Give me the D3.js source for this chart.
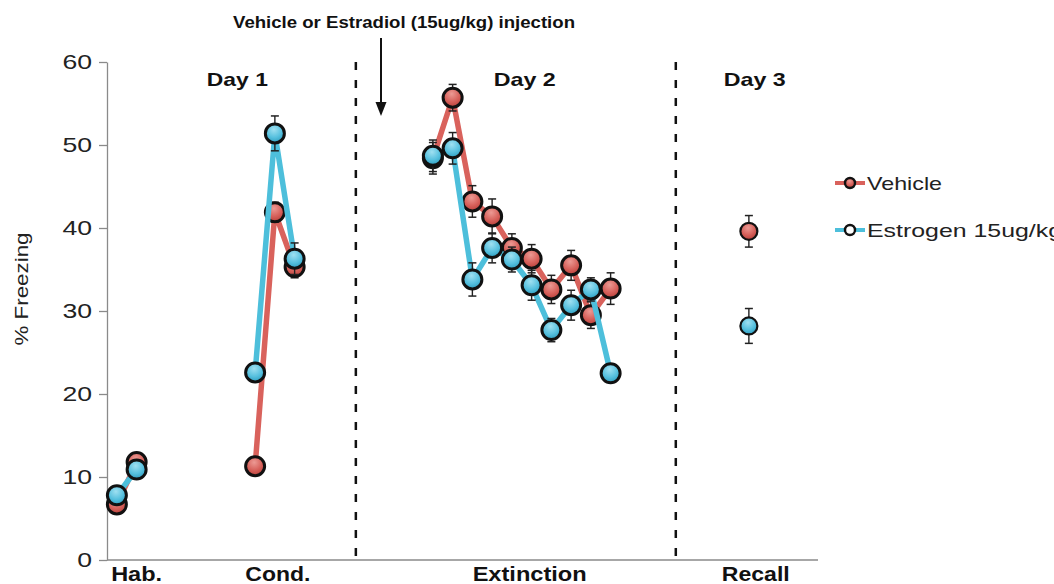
<!DOCTYPE html>
<html>
<head>
<meta charset="utf-8">
<script src="https://cdn.jsdelivr.net/npm/d3@7"></script>
<style>
  html, body { margin: 0; padding: 0; background: #fff; }
  svg { display: block; }
</style>
</head>
<body>
<svg id="chart" width="1054" height="584"></svg>
<script>
// ---------------- DATA ----------------
const phases = ["Hab.", "Cond.", "Extinction", "Recall"];
const seriesNames = ["Vehicle", "Estrogen 15ug/kg"];
const dayLabels = ["Day 1", "Day 2", "Day 3"];
const annotationText = "Vehicle or Estradiol (15ug/kg) injection";
const yTicks = [0, 10, 20, 30, 40, 50, 60];
const yTitle = "% Freezing";

// trial slot of each point (x position in trial units)
const habTrials = [0.5, 1.5];
const condTrials = [7.5, 8.5, 9.5];
const extTrials = [16.5, 17.5, 18.5, 19.5, 20.5, 21.5, 22.5, 23.5, 24.5, 25.5];
const recallTrials = [32.5];

// mean % freezing
const habVehicle = [6.7, 11.8];
const habEstrogen = [7.8, 10.9];
const condVehicle = [11.3, 41.9, 35.3];
const condEstrogen = [22.6, 51.4, 36.3];
const extVehicle = [48.4, 55.7, 43.2, 41.4, 37.6, 36.3, 32.6, 35.5, 29.5, 32.7];
const extEstrogen = [48.7, 49.6, 33.8, 37.6, 36.2, 33.1, 27.7, 30.7, 32.6, 22.5];
const recallVehicle = [39.6];
const recallEstrogen = [28.2];

// standard error
const habVehicleErr = [0.5, 0.6];
const habEstrogenErr = [0.5, 0.5];
const condVehicleErr = [0.5, 1.2, 1.3];
const condEstrogenErr = [0.5, 2.1, 1.9];
const extVehicleErr = [1.9, 1.6, 1.9, 2.1, 1.7, 1.7, 1.7, 1.8, 1.6, 1.9];
const extEstrogenErr = [1.9, 1.9, 2.0, 1.8, 1.5, 1.8, 1.4, 1.8, 1.4, 1.0];
const recallVehicleErr = [1.9];
const recallEstrogenErr = [2.1];

// ---------------- LAYOUT ----------------
const W = 1054, H = 584;
const svg = d3.select("#chart");
const x = d3.scaleLinear().domain([0, 36]).range([107, 818]);
const y = d3.scaleLinear().domain([0, 60]).range([560, 62]);

const phaseLabelPos = [1.5, 8.65, 21.4, 32.85];
const phaseLabelWidth = [51, 65, 114, 68];
const dividerPos = [12.6, 28.8];
const dayPos = [6.6, 21.15, 32.8];
const dayWidth = [61, 62, 62];

const colors = { Vehicle: "#d9625c", Estrogen: "#4dbfdb" };
const FONT = "'Liberation Sans', Arial, Helvetica, sans-serif";

// gradients
const defs = svg.append("defs");
function grad(id, light, base, dark) {
  const g = defs.append("radialGradient").attr("id", id)
    .attr("cx", "45%").attr("cy", "30%").attr("r", "70%");
  g.append("stop").attr("offset", "0%").attr("stop-color", light);
  g.append("stop").attr("offset", "60%").attr("stop-color", base);
  g.append("stop").attr("offset", "100%").attr("stop-color", dark);
}
grad("gV", "#ec9a94", "#d6605a", "#b9413b");
grad("gE", "#9fe0f1", "#56c0de", "#2f9ec0");

// ---------------- AXES ----------------
const yAxis = d3.axisLeft(y).tickValues(yTicks).tickSize(8).tickSizeOuter(0).tickPadding(7);
const gy = svg.append("g").attr("transform", `translate(${x(0)},0)`).call(yAxis);
gy.select(".domain").attr("stroke", "#8a8a8a").attr("stroke-width", 1.3);
gy.selectAll(".tick line").attr("stroke", "#8a8a8a").attr("stroke-width", 1.3);
gy.selectAll(".tick text")
  .attr("font-family", FONT).attr("font-size", 21).attr("fill", "#222")
  .attr("textLength", d => String(d).length * 14.8)
  .attr("lengthAdjust", "spacingAndGlyphs");

svg.append("line")
  .attr("x1", x(0)).attr("x2", x(36)).attr("y1", y(0)).attr("y2", y(0))
  .attr("stroke", "#8a8a8a").attr("stroke-width", 1.3);

svg.append("text")
  .attr("transform", `translate(28,289) rotate(-90)`)
  .attr("text-anchor", "middle")
  .attr("font-family", FONT).attr("font-size", 19).attr("fill", "#222")
  .attr("textLength", 113).attr("lengthAdjust", "spacingAndGlyphs")
  .text(yTitle);

svg.append("g").selectAll("text").data(phases).join("text")
  .attr("x", (d, i) => x(phaseLabelPos[i]))
  .attr("y", 581)
  .attr("text-anchor", "middle")
  .attr("font-family", FONT).attr("font-weight", "bold").attr("font-size", 20).attr("fill", "#111")
  .attr("textLength", (d, i) => phaseLabelWidth[i]).attr("lengthAdjust", "spacingAndGlyphs")
  .text(d => d);

// dividers
svg.append("g").selectAll("line").data(dividerPos).join("line")
  .attr("x1", d => x(d)).attr("x2", d => x(d))
  .attr("y1", y(60)).attr("y2", y(0))
  .attr("stroke", "#111").attr("stroke-width", 2.5).attr("stroke-dasharray", "8,10");

// day labels
svg.append("g").selectAll("text").data(dayLabels).join("text")
  .attr("x", (d, i) => x(dayPos[i]))
  .attr("y", 86)
  .attr("text-anchor", "middle")
  .attr("font-family", FONT).attr("font-weight", "bold").attr("font-size", 19).attr("fill", "#111")
  .attr("textLength", (d, i) => dayWidth[i]).attr("lengthAdjust", "spacingAndGlyphs")
  .text(d => d);

// annotation + arrow
svg.append("text")
  .attr("x", 404).attr("y", 28)
  .attr("text-anchor", "middle")
  .attr("font-family", "'Liberation Sans Narrow', " + FONT).attr("font-weight", "bold")
  .attr("font-size", 17).attr("fill", "#111")
  .attr("textLength", 342).attr("lengthAdjust", "spacingAndGlyphs")
  .text(annotationText);
const ax = 381;
svg.append("line").attr("x1", ax).attr("x2", ax).attr("y1", 38).attr("y2", 106)
  .attr("stroke", "#111").attr("stroke-width", 2);
svg.append("path")
  .attr("d", `M${ax - 5.5},${102} L${ax + 5.5},${102} L${ax},${116} Z`)
  .attr("fill", "#111");

// ---------------- SERIES ----------------
function segs(trials, vals, errs) {
  return trials.map((t, i) => ({ t, v: vals[i], e: errs[i] }));
}
const vehicleSegs = [
  segs(habTrials, habVehicle, habVehicleErr),
  segs(condTrials, condVehicle, condVehicleErr),
  segs(extTrials, extVehicle, extVehicleErr),
  segs(recallTrials, recallVehicle, recallVehicleErr)
];
const estrogenSegs = [
  segs(habTrials, habEstrogen, habEstrogenErr),
  segs(condTrials, condEstrogen, condEstrogenErr),
  segs(extTrials, extEstrogen, extEstrogenErr),
  segs(recallTrials, recallEstrogen, recallEstrogenErr)
];

const line = d3.line().x(d => x(d.t)).y(d => y(d.v));

function drawSeries(segments, color, gradId) {
  const g = svg.append("g");
  g.selectAll("path.ln").data(segments.filter(s => s.length > 1)).join("path")
    .attr("class", "ln")
    .attr("d", line).attr("fill", "none")
    .attr("stroke", color).attr("stroke-width", 5.5).attr("stroke-linejoin", "round");
  const pts = segments.flat();
  const eg = g.append("g");
  eg.selectAll("line.eb").data(pts).join("line").attr("class", "eb")
    .attr("x1", d => x(d.t)).attr("x2", d => x(d.t))
    .attr("y1", d => y(d.v - d.e)).attr("y2", d => y(d.v + d.e))
    .attr("stroke", "#222").attr("stroke-width", 1.4);
  eg.selectAll("line.capT").data(pts).join("line").attr("class", "capT")
    .attr("x1", d => x(d.t) - 4).attr("x2", d => x(d.t) + 4)
    .attr("y1", d => y(d.v + d.e)).attr("y2", d => y(d.v + d.e))
    .attr("stroke", "#222").attr("stroke-width", 1.5);
  eg.selectAll("line.capB").data(pts).join("line").attr("class", "capB")
    .attr("x1", d => x(d.t) - 4).attr("x2", d => x(d.t) + 4)
    .attr("y1", d => y(d.v - d.e)).attr("y2", d => y(d.v - d.e))
    .attr("stroke", "#222").attr("stroke-width", 1.5);
  g.selectAll("circle").data(pts).join("circle")
    .attr("cx", d => x(d.t)).attr("cy", d => y(d.v))
    .attr("r", d => d.t === recallTrials[0] ? 8.5 : 9.5)
    .attr("fill", `url(#${gradId})`)
    .attr("stroke", "#111").attr("stroke-width", d => d.t === recallTrials[0] ? 2.2 : 3);
}
drawSeries(vehicleSegs, colors.Vehicle, "gV");
drawSeries(estrogenSegs, colors.Estrogen, "gE");

// ---------------- LEGEND ----------------
const legend = svg.append("g");
const legendItems = [
  { name: seriesNames[0], color: colors.Vehicle, grad: "gV", cy: 183 },
  { name: seriesNames[1], color: colors.Estrogen, grad: "gE", cy: 230 }
];
const legendWidths = [75, 195];
legendItems.forEach((it, i) => {
  legend.append("line").attr("x1", 835).attr("x2", 865).attr("y1", it.cy).attr("y2", it.cy)
    .attr("stroke", it.color).attr("stroke-width", 4);
  legend.append("circle").attr("cx", 850).attr("cy", it.cy).attr("r", 5)
    .attr("fill", i === 0 ? `url(#${it.grad})` : "#ffffff")
    .attr("stroke", "#111").attr("stroke-width", 2.4);
  legend.append("text").attr("x", 867).attr("y", it.cy + 7)
    .attr("font-family", FONT).attr("font-size", 19).attr("fill", "#222")
    .attr("textLength", legendWidths[i]).attr("lengthAdjust", "spacingAndGlyphs")
    .text(it.name);
});
</script>
</body>
</html>
